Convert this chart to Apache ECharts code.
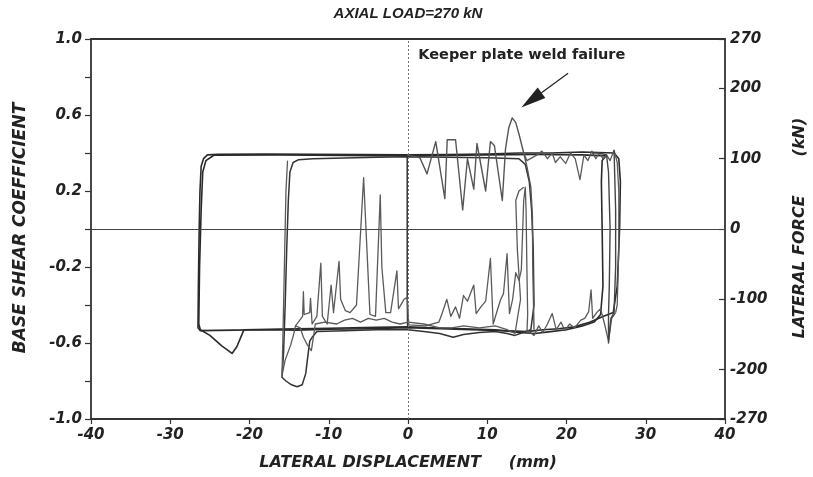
<!DOCTYPE html>
<html>
<head>
<meta charset="utf-8">
<script src="https://cdn.jsdelivr.net/npm/echarts@6/dist/echarts.min.js"></script>
<style>
  html, body { margin: 0; padding: 0; background: #ffffff; }
  #chart { width: 813px; height: 477px; }
</style>
</head>
<body>
<div id="chart"></div>
<script>
// Axis ranges and tick labels
const dispRange = [-40, 40];
const coefRange = [-1, 1];
const forceRange = [-270, 270];
const coefLabels = [1.0, 0.6, 0.2, -0.2, -0.6, -1.0];
const forceLabels = [270, 200, 100, 0, -100, -200, -270];

// Hysteresis traces: [displacement (mm), base shear coefficient]
const outerLoopA = [
  [0, 0.39], [-6, 0.392], [-12, 0.393], [-18, 0.394], [-24, 0.393], [-25.3, 0.39], [-25.8, 0.37],
  [-26.1, 0.33], [-26.25, 0.2], [-26.35, 0], [-26.45, -0.3], [-26.5, -0.52], [-26.2, -0.535],
  [-22, -0.532], [-18, -0.53], [-14, -0.532], [-10, -0.528], [-5, -0.525], [0, -0.52], [4, -0.525],
  [8, -0.53], [12, -0.535], [15, -0.54], [17, -0.53], [19, -0.525], [21, -0.515], [23, -0.49],
  [24.6, -0.46], [25.9, -0.44], [26.4, -0.3], [26.7, 0], [26.8, 0.25], [26.6, 0.37], [26, 0.4],
  [22, 0.405], [18, 0.4], [14, 0.4], [10, 0.395], [5, 0.392], [0, 0.39]
];
const outerLoopB = [
  [0, 0.385], [-8, 0.387], [-16, 0.39], [-24.5, 0.388], [-25.5, 0.36], [-25.9, 0.3], [-26.1, 0.1],
  [-26.3, -0.2], [-26.4, -0.5], [-26.2, -0.53], [-25, -0.56], [-23.5, -0.615], [-22.2, -0.655],
  [-21.6, -0.62], [-21.0, -0.56], [-20.7, -0.53], [-16, -0.527], [-10, -0.522], [-4, -0.518],
  [0, -0.515], [3, -0.52], [7, -0.525], [11, -0.53], [14, -0.545], [16, -0.55], [18, -0.54],
  [20, -0.53], [22, -0.51], [23.5, -0.49], [24.3, -0.45], [24.6, -0.3], [24.5, 0], [24.4, 0.25],
  [24.5, 0.36], [25, 0.385], [22, 0.39], [16, 0.392], [10, 0.39], [4, 0.387], [0, 0.385]
];
const midLoop = [
  [0, 0.38], [-4, 0.378], [-8, 0.374], [-12, 0.37], [-13.8, 0.365], [-14.5, 0.35], [-14.9, 0.3],
  [-15.1, 0.15], [-15.3, -0.1], [-15.5, -0.4], [-15.7, -0.65], [-15.9, -0.78], [-15.4, -0.8],
  [-14.7, -0.82], [-14, -0.83], [-13.35, -0.82], [-12.9, -0.76], [-12.7, -0.69], [-12.4, -0.59],
  [-12.1, -0.57], [-11.5, -0.54], [-8, -0.535], [-4, -0.53], [0, -0.53], [2, -0.54], [4, -0.55],
  [5.7, -0.57], [7, -0.555], [9, -0.545], [11, -0.54], [12.5, -0.55], [13.5, -0.56], [14.5, -0.545],
  [15.5, -0.53], [15.9, -0.4], [15.8, -0.1], [15.6, 0.1], [15.3, 0.25], [14.8, 0.34], [14, 0.37],
  [10, 0.375], [5, 0.378], [0, 0.38]
];
const zeroCrossing = [[-0.1, 0.39], [-0.1, -0.36], [-0.05, -0.51]];
const lowerSpikes = [
  [-15.2, 0.36], [-15.4, 0.2], [-15.6, -0.2], [-15.8, -0.6], [-15.9, -0.77], [-15.5, -0.69],
  [-14.8, -0.61], [-14.4, -0.55], [-14.2, -0.51], [-13.3, -0.46], [-13.2, -0.33], [-13.1, -0.45],
  [-12.4, -0.44], [-12.3, -0.365], [-12.1, -0.5], [-11.5, -0.46], [-11.0, -0.18], [-10.8, -0.46],
  [-10.2, -0.5], [-9.7, -0.295], [-9.4, -0.44], [-8.7, -0.17], [-8.5, -0.37], [-7.9, -0.43],
  [-7.3, -0.44], [-6.5, -0.4], [-5.6, 0.27], [-4.8, -0.45], [-4.1, -0.46], [-3.5, 0.18],
  [-3.3, -0.2], [-2.8, -0.44], [-2.2, -0.44], [-1.4, -0.22], [-1.2, -0.42], [-0.5, -0.37],
  [-0.1, -0.36], [0.1, -0.505], [2.2, -0.51], [3.9, -0.49], [4.3, -0.445], [4.9, -0.37],
  [5.4, -0.46], [6.0, -0.41], [6.5, -0.47], [7.0, -0.35], [7.5, -0.38], [8.3, -0.295],
  [8.6, -0.445], [9.2, -0.41], [9.8, -0.38], [10.4, -0.155], [10.75, -0.5], [11.25, -0.43],
  [11.7, -0.37], [12.05, -0.34], [12.5, -0.13], [12.8, -0.445], [13.2, -0.37], [13.6, -0.23],
  [14, -0.27], [14.3, -0.215], [14.6, 0.15], [14.8, 0.22], [14.9, 0.1], [15.0, -0.2],
  [15.1, -0.45], [15.0, -0.55]
];
const lowerWiggle = [
  [-14.2, -0.51], [-13.6, -0.52], [-13.2, -0.57], [-12.7, -0.61], [-12.2, -0.64], [-11.9, -0.56],
  [-11.7, -0.5], [-10.5, -0.49], [-9, -0.5], [-8, -0.48], [-7, -0.47], [-6, -0.49], [-5, -0.47],
  [-4, -0.48], [-3, -0.47], [-2, -0.49], [-1, -0.5], [0, -0.49], [2, -0.5], [4, -0.52],
  [5.5, -0.52], [7, -0.51], [9, -0.52], [11, -0.51], [12.5, -0.53], [13.5, -0.55], [14.2, -0.37],
  [13.8, -0.11], [13.6, 0.15], [14.0, 0.2], [14.6, 0.22]
];
const upperSpikes = [
  [-0.1, 0.39], [1.5, 0.375], [2.4, 0.29], [3.5, 0.46], [4.65, 0.16], [4.95, 0.47], [6.0, 0.47],
  [6.9, 0.1], [7.5, 0.37], [8.3, 0.21], [8.7, 0.45], [9.8, 0.2], [10.4, 0.46], [10.9, 0.44],
  [11.9, 0.15], [12.3, 0.42], [12.7, 0.53], [13.15, 0.585], [13.6, 0.56], [14.0, 0.5],
  [14.6, 0.4], [15.0, 0.33], [15.5, 0.22], [15.7, 0.065], [15.75, -0.2], [15.9, -0.53]
];
const upperRight = [
  [14.6, 0.4], [15.0, 0.36], [16.3, 0.39], [16.9, 0.41], [17.6, 0.37], [18.2, 0.4], [18.6, 0.35],
  [19.2, 0.38], [19.9, 0.345], [20.5, 0.4], [21.1, 0.37], [21.7, 0.26], [22.2, 0.39], [22.7, 0.36],
  [23.2, 0.41], [23.7, 0.37], [24.1, 0.4], [24.6, 0.37], [25.05, 0.39], [25.5, 0.36], [26.0, 0.415],
  [26.4, 0.35], [26.6, 0.2], [26.6, -0.1], [26.4, -0.4], [26.2, -0.44]
];
const lowerRight = [
  [15.0, -0.53], [15.9, -0.56], [16.5, -0.51], [17.0, -0.545], [17.6, -0.5], [18.2, -0.445],
  [18.7, -0.53], [19.3, -0.49], [19.8, -0.535], [20.4, -0.5], [21.0, -0.52], [21.8, -0.48],
  [22.3, -0.47], [22.8, -0.435], [23.1, -0.32], [23.3, -0.47], [23.8, -0.44], [24.3, -0.42],
  [24.8, -0.5], [25.3, -0.59], [25.7, -0.47], [26.2, -0.44]
];
const rightEdge = [
  [23.2, 0.4], [24.1, 0.4], [25.05, 0.39], [25.3, 0.3], [25.5, 0], [25.4, -0.3], [25.3, -0.45],
  [25.3, -0.6], [25.6, -0.47], [26.0, -0.44], [26.2, -0.2], [26.2, 0.1], [26.0, 0.415]
];

// Annotation of the weld failure event (data coordinates)
const noteText = 'Keeper plate weld failure';
const noteAt = [1.3, 0.915];
const arrowTail = [20.2, 0.82];
const arrowTip = [14.3, 0.64];

const WIDE = '"DejaVu Sans", Verdana, sans-serif';
const NARROW = '"Liberation Sans", Arial, sans-serif';
const INK = '#2a2a2a';

const chart = echarts.init(document.getElementById('chart'), null, { renderer: 'canvas' });

function trace(name, data, color, width) {
  return {
    name, type: 'line', data, xAxisIndex: 0, yAxisIndex: 0,
    symbol: 'none', showSymbol: false, silent: true,
    lineStyle: { color, width, join: 'round' }
  };
}

const tickFont = { fontFamily: WIDE, fontStyle: 'italic', fontWeight: 'bold', fontSize: 15, color: '#222' };

const series = [
  trace('outerA', outerLoopA, INK, 1.6),
  trace('outerB', outerLoopB, INK, 1.6),
  trace('mid', midLoop, '#333', 1.5),
  trace('zero', zeroCrossing, '#333', 1.5),
  trace('lowSpikes', lowerSpikes, '#5a5a5a', 1.3),
  trace('lowWiggle', lowerWiggle, '#5a5a5a', 1.3),
  trace('upSpikes', upperSpikes, '#555', 1.4),
  trace('upRight', upperRight, '#5a5a5a', 1.3),
  trace('lowRight', lowerRight, '#5a5a5a', 1.3),
  trace('rightEdge', rightEdge, '#444', 1.4)
];
series[0].markLine = {
  silent: true, symbol: 'none', animation: false, label: { show: false },
  data: [
    { xAxis: 0, lineStyle: { color: '#777', type: [2, 2], width: 1 } },
    { yAxis: 0, lineStyle: { color: '#444', type: 'solid', width: 1 } }
  ]
};

chart.setOption({
  animation: false,
  backgroundColor: '#ffffff',
  grid: { left: 91, right: 88, top: 39, bottom: 58, containLabel: false },
  xAxis: [
    {
      type: 'value', min: dispRange[0], max: dispRange[1], interval: 10, position: 'bottom',
      axisLine: { show: true, onZero: false, lineStyle: { color: '#333', width: 1.8 } },
      axisTick: { show: true, inside: false, length: 5, lineStyle: { color: '#333', width: 1.2 } },
      axisLabel: Object.assign({ margin: 9 }, tickFont),
      splitLine: { show: false }
    },
    {
      type: 'value', min: dispRange[0], max: dispRange[1], position: 'top',
      axisLine: { show: true, onZero: false, lineStyle: { color: '#333', width: 1.8 } },
      axisTick: { show: false }, axisLabel: { show: false }, splitLine: { show: false }
    }
  ],
  yAxis: [
    {
      type: 'value', min: coefRange[0], max: coefRange[1], interval: 0.2, position: 'left',
      axisLine: { show: true, onZero: false, lineStyle: { color: '#333', width: 1.8 } },
      axisTick: { show: true, inside: false, length: 6, lineStyle: { color: '#333', width: 1.2 } },
      axisLabel: Object.assign({
        margin: 9, customValues: coefLabels,
        formatter: v => Number(v).toFixed(1)
      }, tickFont),
      splitLine: { show: false }
    },
    {
      type: 'value', min: forceRange[0], max: forceRange[1], position: 'right',
      axisLine: { show: true, onZero: false, lineStyle: { color: '#333', width: 1.8 } },
      axisTick: { show: true, inside: true, length: 6, customValues: forceLabels,
        lineStyle: { color: '#333', width: 1.2 } },
      axisLabel: Object.assign({ margin: 5, customValues: forceLabels }, tickFont),
      splitLine: { show: false }
    }
  ],
  series
});

// Titles, axis names and the annotation arrow
function px(p) { return chart.convertToPixel({ xAxisIndex: 0, yAxisIndex: 0 }, p); }
const tip = px(arrowTip), tail = px(arrowTail), note = px(noteAt);
const dx = tip[0] - tail[0], dy = tip[1] - tail[1];
const len = Math.hypot(dx, dy), ux = dx / len, uy = dy / len;
const headLen = 25, headHalf = 6.5;
const base = [tip[0] - ux * headLen, tip[1] - uy * headLen];
const head = [
  tip,
  [base[0] - uy * headHalf, base[1] + ux * headHalf],
  [base[0] + uy * headHalf, base[1] - ux * headHalf]
];
const textStyle = (family, size, italic) => ({
  fontFamily: family, fontWeight: 'bold', fontStyle: italic ? 'italic' : 'normal',
  fontSize: size, fill: '#222'
});

chart.setOption({
  graphic: [
    { type: 'text', x: 408, y: 14, silent: true,
      style: Object.assign({ text: 'AXIAL LOAD=270 kN', align: 'center', verticalAlign: 'middle' }, textStyle(NARROW, 15, true)) },
    { type: 'text', x: 21, y: 228, rotation: Math.PI / 2, silent: true,
      style: Object.assign({ text: 'BASE SHEAR COEFFICIENT', align: 'center', verticalAlign: 'middle' }, textStyle(WIDE, 17, true)) },
    { type: 'text', x: 800, y: 228, rotation: Math.PI / 2, silent: true,
      style: Object.assign({ text: 'LATERAL FORCE       (kN)', align: 'center', verticalAlign: 'middle' }, textStyle(WIDE, 16, true)) },
    { type: 'text', x: 408, y: 463, silent: true,
      style: Object.assign({ text: 'LATERAL DISPLACEMENT     (mm)', align: 'center', verticalAlign: 'middle' }, textStyle(WIDE, 16, true)) },
    { type: 'text', x: note[0], y: note[1], silent: true,
      style: Object.assign({ text: noteText, align: 'left', verticalAlign: 'middle' }, textStyle(WIDE, 14.5, false)) },
    { type: 'line', silent: true,
      shape: { x1: tail[0], y1: tail[1], x2: base[0], y2: base[1] },
      style: { stroke: '#222', lineWidth: 1.2 } },
    { type: 'polygon', silent: true, shape: { points: head }, style: { fill: '#222' } }
  ]
});
</script>
</body>
</html>
